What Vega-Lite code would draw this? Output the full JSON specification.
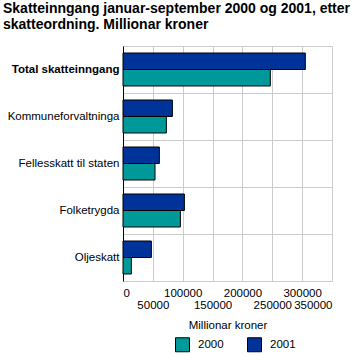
{
  "$schema": "https://vega.github.io/schema/vega-lite/v6.json",
  "autosize": "none",
  "width": 209,
  "height": 235,
  "padding": {"left": 123, "top": 46, "right": 23, "bottom": 80},
  "background": "white",
  "title": {
    "text": ["Skatteinngang januar-september 2000 og 2001, etter", "skatteordning. Millionar kroner"],
    "anchor": "start",
    "frame": "group",
    "dx": -120,
    "offset": 8,
    "font": "Liberation Sans",
    "fontSize": 14,
    "fontWeight": "bold",
    "lineHeight": 16,
    "color": "black"
  },
  "config": {
    "view": {"stroke": "#cccccc", "strokeWidth": 1},
    "font": "Liberation Sans"
  },
  "data": {
    "values": [
      {"kategori": "Total skatteinngang", "aar": "2000", "verdi": 246700},
      {"kategori": "Total skatteinngang", "aar": "2001", "verdi": 305300},
      {"kategori": "Kommuneforvaltninga", "aar": "2000", "verdi": 72600},
      {"kategori": "Kommuneforvaltninga", "aar": "2001", "verdi": 82700},
      {"kategori": "Fellesskatt til staten", "aar": "2000", "verdi": 53600},
      {"kategori": "Fellesskatt til staten", "aar": "2001", "verdi": 60900},
      {"kategori": "Folketrygda", "aar": "2000", "verdi": 96100},
      {"kategori": "Folketrygda", "aar": "2001", "verdi": 102800},
      {"kategori": "Oljeskatt", "aar": "2000", "verdi": 14000},
      {"kategori": "Oljeskatt", "aar": "2001", "verdi": 47500}
    ]
  },
  "mark": {"type": "bar", "stroke": "black", "strokeWidth": 1},
  "encoding": {
    "y": {
      "field": "kategori",
      "type": "nominal",
      "sort": ["Total skatteinngang", "Kommuneforvaltninga", "Fellesskatt til staten", "Folketrygda", "Oljeskatt"],
      "scale": {"paddingInner": 0, "paddingOuter": 0},
      "axis": {
        "title": null,
        "tickBand": "extent",
        "ticks": false,
        "grid": true,
        "gridColor": "#cccccc",
        "domain": true,
        "domainColor": "black",
        "labelFontSize": 11.5,
        "labelColor": "black",
        "labelPadding": 4,
        "labelFontWeight": {"condition": {"test": "datum.value == 'Total skatteinngang'", "value": "bold"}, "value": "normal"}
      }
    },
    "yOffset": {
      "field": "aar",
      "type": "nominal",
      "scale": {"domain": ["2001", "2000"], "paddingInner": 0, "paddingOuter": 0.425}
    },
    "x": {
      "field": "verdi",
      "type": "quantitative",
      "scale": {"domain": [0, 350000], "nice": false},
      "axis": {
        "title": "Millionar kroner",
        "titleFontSize": 11.5,
        "titleFontWeight": "normal",
        "titleColor": "black",
        "titlePadding": 9,
        "values": [0, 50000, 100000, 150000, 200000, 250000, 300000, 350000],
        "format": "d",
        "labelOverlap": false,
        "labelFontSize": 11.5,
        "labelColor": "black",
        "labelPadding": {"condition": {"test": "datum.value % 100000 == 0", "value": 6}, "value": 18},
        "ticks": false,
        "domain": false,
        "grid": true,
        "gridColor": "#cccccc"
      }
    },
    "color": {
      "field": "aar",
      "type": "nominal",
      "scale": {"domain": ["2000", "2001"], "range": ["#009999", "#003399"]},
      "legend": {
        "title": null,
        "orient": "none",
        "legendX": 52,
        "legendY": 291,
        "direction": "horizontal",
        "symbolType": "square",
        "symbolSize": 196,
        "symbolStrokeColor": "black",
        "symbolStrokeWidth": 1,
        "symbolOpacity": 1,
        "labelFontSize": 11.5,
        "labelColor": "black",
        "labelOffset": 8,
        "columnPadding": 21
      }
    }
  }
}
